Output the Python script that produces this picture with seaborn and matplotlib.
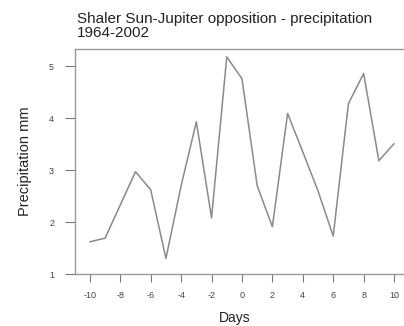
import matplotlib
matplotlib.use("Agg")
import matplotlib.pyplot as plt
import seaborn as sns
import pandas as pd

days = [-10, -9, -8, -7, -6, -5, -4, -3, -2, -1, 0, 1, 2, 3, 4, 5, 6, 7, 8, 9, 10]
precip = [1.62, 1.69, 2.33, 2.97, 2.62, 1.30, 2.70, 3.93, 2.08, 5.18, 4.76,
          2.70, 1.91, 4.09, 3.35, 2.60, 1.73, 4.28, 4.86, 3.18, 3.51]
x_ticks = [-10, -8, -6, -4, -2, 0, 2, 4, 6, 8, 10]
y_ticks = [1, 2, 3, 4, 5]
title = "Shaler Sun-Jupiter opposition - precipitation\n1964-2002"

sns.set_theme(style="white")
plt.rcParams['font.family'] = ['Liberation Sans', 'DejaVu Sans']
plt.rcParams['axes.unicode_minus'] = False

df = pd.DataFrame({"Days": days, "Precipitation mm": precip})

fig = plt.figure(figsize=(4.04, 3.26), dpi=100)
ax = fig.add_axes([0.1856, 0.1595, 0.812, 0.690])
sns.lineplot(data=df, x="Days", y="Precipitation mm", ax=ax, color="#8a8a8a", linewidth=1.1)

ax.set_xlim(-10.98, 10.59)
ax.set_ylim(1.0, 5.33)
ax.set_xticks(x_ticks)
ax.set_yticks(y_ticks)
ax.tick_params(axis="both", which="both", direction="out", width=0.8,
               color="#777777", labelsize=6.5, labelcolor="#444444", bottom=True, left=True)
ax.tick_params(axis="y", length=7, pad=8)
ax.tick_params(axis="x", length=6, pad=6)
for s in ["left", "bottom", "top"]:
    ax.spines[s].set_visible(True)
    ax.spines[s].set_color("#999999")
    ax.spines[s].set_linewidth(1.0)
ax.spines["right"].set_visible(False)
ax.set_xlabel("Days", fontsize=10, color="#222222")
ax.set_ylabel("Precipitation mm", fontsize=10.5, color="#222222")
ax.xaxis.set_label_coords(0.487, -0.165)
ax.yaxis.set_label_coords(-0.13, 0.50)
fig.text(0.19, 0.92, title, fontsize=11, color="#222222", ha="left", va="center", linespacing=1.05)

fig.savefig("out.png", dpi=100)
